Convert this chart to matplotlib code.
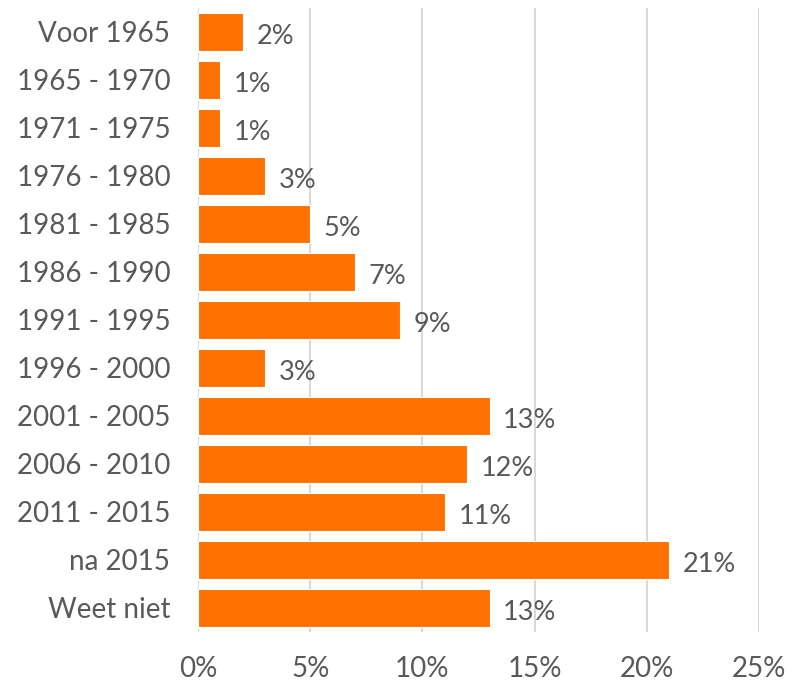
import matplotlib.pyplot as plt

categories = ['Voor 1965', '1965 - 1970', '1971 - 1975', '1976 - 1980', '1981 - 1985',
              '1986 - 1990', '1991 - 1995', '1996 - 2000', '2001 - 2005', '2006 - 2010',
              '2011 - 2015', 'na 2015', 'Weet niet']
values = [2, 1, 1, 3, 5, 7, 9, 3, 13, 12, 11, 21, 13]
xticks = [0, 5, 10, 15, 20, 25]

text_color = '#595959'
bar_color = '#FF7100'

plt.rcParams['font.family'] = ['Lato', 'DejaVu Sans']

fig = plt.figure(figsize=(7.9, 6.86), dpi=100)
ax = fig.add_axes([198 / 790, 1 - 632 / 686, (759 - 198) / 790, 624 / 686])

y = list(range(len(categories)))
ax.barh(y, values, height=0.79, color=bar_color, edgecolor='white', linewidth=0.8, zorder=3)

for yi, v in zip(y, values):
    ax.text(v + 0.6, yi + 0.1, f'{v}%', va='center', ha='left',
            fontsize=19.5, color=text_color)

ax.set_ylim(len(categories) - 0.5, -0.5)
ax.set_xlim(0, 25)
ax.set_yticks(y)
ax.set_yticklabels(categories, fontsize=20, color=text_color)
ax.set_xticks(xticks)
ax.set_xticklabels([f'{t}%' for t in xticks], fontsize=20, color=text_color)
ax.tick_params(axis='both', length=0)
ax.tick_params(axis='y', pad=20)
ax.tick_params(axis='x', pad=17)

ax.grid(axis='x', color='#D9D9D9', linewidth=1.5, zorder=0)
for s in ax.spines.values():
    s.set_visible(False)

fig.savefig('out.png', dpi=100)
